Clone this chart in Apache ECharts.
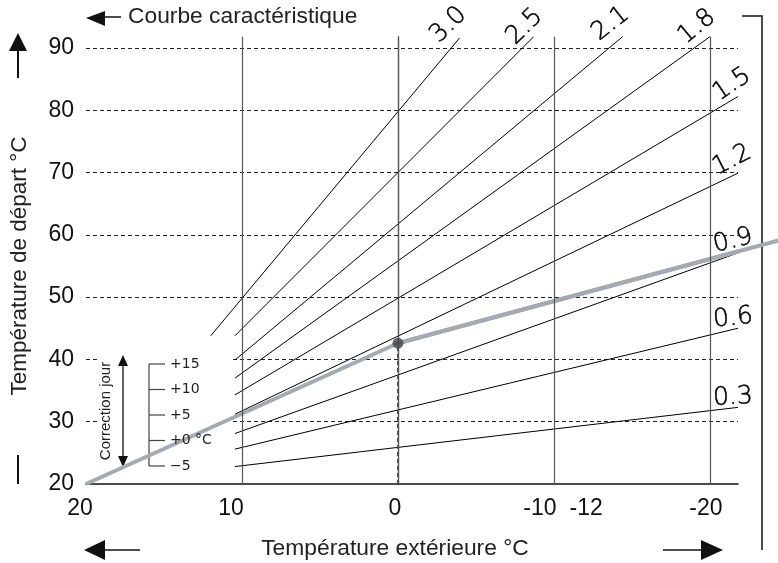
<!DOCTYPE html>
<html>
<head>
<meta charset="utf-8">
<script src="https://cdn.jsdelivr.net/npm/echarts@6/dist/echarts.min.js"></script>
<style>
html,body{margin:0;padding:0;background:#fff;}
#c{width:778px;height:563px;}
</style>
</head>
<body>
<div id="c"></div>
<script>
// ---------- data ----------
const xTickValues = [20, 10, 0, -10, -12, -20];
const xGridValues = [10, 0, -10, -20];
const curveNames = ['3.0', '2.5', '2.1', '1.8', '1.5', '1.2', '0.9', '0.6', '0.3'];
const curveStartOut = [12, 10.45, 10.45, 10.45, 10.45, 10.45, 10.45, 10.45, 10.45];
const curveStartFlow = [43.8, 43.8, 39.9, 37.0, 34.3, 31.2, 28.1, 25.6, 22.8];
const curveEndOut = [-3.95, -8.7, -14.4, -20.0, -21.8, -21.8, -21.8, -21.8, -21.8];
const curveEndFlow = [91.6, 91.8, 91.8, 91.8, 82.2, 69.9, 57.1, 45.0, 32.3];
const selectedOut = [20, 0, -24.4];
const selectedFlow = [20, 42.6, 59.1];
const pointOut = 0;
const pointFlow = 42.6;
const correctionLabels = ['+15', '+10', '+5', '+0 °C', '\u22125'];

// ---------- style ----------
const X_MIN = -21.8, X_MAX = 20, Y_MIN = 20, Y_MAX = 91.8;
const labelRot = [45, 44, 38, 40, 34, 27, 14, 6, 3];
const labelOff = [[-11, -13], [-9, -10], [-12, -13], [-13, -10], [-6, -12], [-6, -13], [-5, -12], [-5, -10], [-5, -10]];
const xLabelShift = {'20': -6, '10': -11, '0': -3, '-10': -14, '-12': 1, '-20': -4};
const FONT = 'Liberation Sans, Arial, Helvetica, sans-serif';
const GREY = '#a3aab3';

const chart = echarts.init(document.getElementById('c'));

const series = [];
series.push({
  type: 'line', data: [], silent: true,
  markLine: {
    silent: true, symbol: ['none', 'none'], animation: false,
    label: {show: false},
    lineStyle: {color: '#555', width: 1.2, type: 'solid'},
    data: xGridValues.map(v => ({xAxis: v}))
  }
});
curveNames.forEach((n, i) => {
  series.push({
    type: 'line', name: n, silent: true, symbol: 'none', z: 3,
    lineStyle: {color: '#000', width: 1},
    data: [[curveStartOut[i], curveStartFlow[i]], [curveEndOut[i], curveEndFlow[i]]]
  });
});
series.push({
  type: 'line', silent: true, symbol: 'none', clip: false, z: 4,
  lineStyle: {color: GREY, width: 4},
  data: selectedOut.map((v, i) => [v, selectedFlow[i]])
});
series.push({
  type: 'line', silent: true, symbol: 'none', z: 4,
  lineStyle: {color: '#4a4f58', width: 2, type: [4, 3]},
  data: [[pointOut, Y_MIN], [pointOut, pointFlow]]
});
series.push({
  type: 'scatter', silent: true, z: 5, symbolSize: 11,
  itemStyle: {color: '#3d424b'},
  data: [[pointOut, pointFlow]]
});

const option = {
  animation: false,
  backgroundColor: '#fff',
  grid: {left: 86, right: 40, top: 36.7, bottom: 79, containLabel: false},
  xAxis: {
    type: 'value', inverse: true, min: X_MIN, max: X_MAX,
    axisLine: {show: true, lineStyle: {color: '#111', width: 1.5}},
    axisTick: {show: false},
    splitLine: {show: false},
    axisLabel: {
      customValues: xTickValues,
      margin: 13,
      formatter: v => {
        const s = String(v);
        const sh = xLabelShift[s] || 0;
        return sh < 0 ? '{r' + (-sh) + '|' + s + '}' : '{l' + sh + '|' + s + '}';
      },
      rich: (function () {
        const r = {};
        for (let k = 0; k <= 20; k++) {
          r['r' + k] = {fontSize: 23, fontFamily: FONT, color: '#111', padding: [0, 2 * k, 0, 0]};
          r['l' + k] = {fontSize: 23, fontFamily: FONT, color: '#111', padding: [0, 0, 0, 2 * k]};
        }
        return r;
      })()
    }
  },
  yAxis: {
    type: 'value', min: Y_MIN, max: Y_MAX, interval: 10,
    axisLine: {show: true, lineStyle: {color: '#666', width: 1.3}},
    axisTick: {show: false},
    splitLine: {show: true, showMaxLine: false, showMinLine: false, lineStyle: {color: '#222', width: 1, type: [4, 3]}},
    axisLabel: {fontSize: 23, fontFamily: FONT, color: '#111', margin: 12, padding: [6, 0, 0, 0]}
  },
  series: series
};
chart.setOption(option);

// ---------- annotations ----------
const g = [];
// continuation of the selected curve beyond the plot edge (through the axis scales)
const pA = chart.convertToPixel({gridIndex: 0}, [selectedOut[1], selectedFlow[1]]);
const pB = chart.convertToPixel({gridIndex: 0}, [selectedOut[2], selectedFlow[2]]);
g.push({type: 'line', z: 4, shape: {x1: pA[0], y1: pA[1], x2: pB[0], y2: pB[1]}, style: {stroke: GREY, lineWidth: 4}});

curveNames.forEach((n, i) => {
  const p = chart.convertToPixel({gridIndex: 0}, [curveEndOut[i], curveEndFlow[i]]);
  g.push({
    type: 'text', z: 10,
    x: p[0] + labelOff[i][0], y: p[1] + labelOff[i][1],
    rotation: labelRot[i] * Math.PI / 180,
    style: {text: n, fontSize: 25, fontFamily: 'DejaVu Sans', fontWeight: 200, fill: '#000',
      stroke: '#000', lineWidth: 0.5, align: 'center', verticalAlign: 'middle'}
  });
});
// white box behind correction scale
g.push({type: 'rect', z: 1, shape: {x: 98, y: 348, width: 135, height: 124}, style: {fill: '#fff'}});
// correction text
g.push({type: 'text', z: 1, x: 106, y: 411, rotation: Math.PI / 2,
  style: {text: 'Correction jour', fontSize: 15, fontFamily: FONT, fill: '#222', align: 'center', verticalAlign: 'middle'}});
// double arrow
g.push({type: 'line', z: 1, shape: {x1: 123, y1: 362, x2: 123, y2: 460}, style: {stroke: '#111', lineWidth: 1.3}});
g.push({type: 'polygon', z: 1, shape: {points: [[123, 355], [118, 366], [128, 366]]}, style: {fill: '#111'}});
g.push({type: 'polygon', z: 1, shape: {points: [[123, 467], [118, 456], [128, 456]]}, style: {fill: '#111'}});
// bracket
const bTop = 364, bStep = 25.5;
g.push({type: 'line', z: 1, shape: {x1: 149, y1: bTop, x2: 149, y2: bTop + 4 * bStep}, style: {stroke: '#444', lineWidth: 1.2}});
correctionLabels.forEach((t, k) => {
  const yy = bTop + k * bStep;
  g.push({type: 'line', z: 1, shape: {x1: 149, y1: yy, x2: 165, y2: yy}, style: {stroke: '#444', lineWidth: 1.2}});
  g.push({type: 'text', z: 6, x: 170, y: yy, style: {text: t, fontSize: 14, fontFamily: 'DejaVu Sans, ' + FONT, fill: '#222', align: 'left', verticalAlign: 'middle'}});
});
// top legend
g.push({type: 'polygon', shape: {points: [[86, 18], [105, 11], [105, 26]]}, style: {fill: '#111'}});
g.push({type: 'line', shape: {x1: 105, y1: 17, x2: 121, y2: 17}, style: {stroke: '#111', lineWidth: 1.5}});
g.push({type: 'text', x: 128, y: 17, style: {text: 'Courbe caractéristique', fontSize: 22.8, fontFamily: FONT, fill: '#222', align: 'left', verticalAlign: 'middle'}});
// y title + arrows
g.push({type: 'text', x: 20, y: 266, rotation: Math.PI / 2,
  style: {text: 'Température de départ °C', fontSize: 22.5, fontFamily: FONT, fill: '#222', align: 'center', verticalAlign: 'middle'}});
g.push({type: 'polygon', shape: {points: [[18, 33], [9, 51], [27, 51]]}, style: {fill: '#111'}});
g.push({type: 'line', shape: {x1: 18, y1: 50, x2: 18, y2: 78}, style: {stroke: '#111', lineWidth: 2}});
g.push({type: 'line', shape: {x1: 18, y1: 455, x2: 18, y2: 484}, style: {stroke: '#111', lineWidth: 2}});
// x title + arrows
g.push({type: 'text', x: 395, y: 549, style: {text: 'Température extérieure °C', fontSize: 22.8, fontFamily: FONT, fill: '#222', align: 'center', verticalAlign: 'middle'}});
g.push({type: 'polygon', shape: {points: [[84, 550], [105, 540], [105, 560]]}, style: {fill: '#111'}});
g.push({type: 'line', shape: {x1: 105, y1: 550, x2: 140, y2: 550}, style: {stroke: '#111', lineWidth: 1.5}});
g.push({type: 'line', shape: {x1: 663, y1: 550, x2: 701, y2: 550}, style: {stroke: '#111', lineWidth: 1.5}});
g.push({type: 'polygon', shape: {points: [[723, 550], [701, 540], [701, 560]]}, style: {fill: '#111'}});
// right bracket
g.push({type: 'polyline', shape: {points: [[742, 16], [762, 16], [762, 550]]}, style: {stroke: '#111', lineWidth: 1.5, fill: null}});

chart.setOption({graphic: {elements: g}});
</script>
</body>
</html>
